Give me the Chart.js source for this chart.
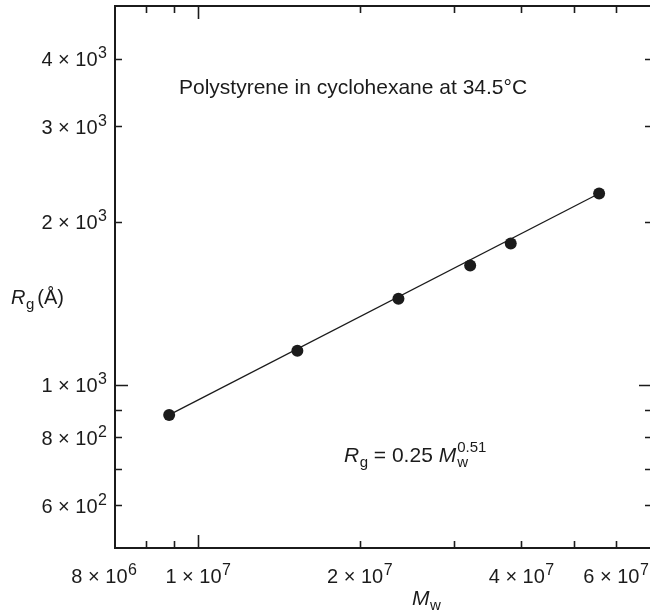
<!DOCTYPE html>
<html><head><meta charset="utf-8">
<script src="https://cdn.jsdelivr.net/npm/chart.js@4.4.0/dist/chart.umd.min.js"></script>
<style>
html,body{margin:0;padding:0;overflow:hidden;background:#fff;width:650px;height:613px}
#wrap{position:relative;width:660px;height:613px}
</style>
</head><body><div id="wrap"><canvas id="c" width="660" height="613"></canvas></div>
<script>
// ---- data ----
const molarMass = [8.83e6, 1.53e7, 2.36e7, 3.21e7, 3.82e7, 5.58e7];
const radiusGyration = [880, 1156, 1442, 1660, 1823, 2254];
const fitLineMass = [8.83e6, 5.58e7];
const fitLineRg = [880, 2254];
const xTickValues = [8e6, 9e6, 1e7, 2e7, 3e7, 4e7, 5e7, 6e7];
const xLabeledTicks = [8e6, 1e7, 2e7, 4e7, 6e7];
const xTickLabels = ['8 × 10^6', '1 × 10^7', '2 × 10^7', '4 × 10^7', '6 × 10^7'];
const yTickValues = [600, 700, 800, 900, 1000, 2000, 3000, 4000];
const yLabeledTicks = [600, 800, 1000, 2000, 3000, 4000];
const yTickLabels = ['6 × 10^2', '8 × 10^2', '1 × 10^3', '2 × 10^3', '3 × 10^3', '4 × 10^3'];
const annotationText = 'Polystyrene in cyclohexane at 34.5°C';

const FONT = '"Liberation Sans", Arial, Helvetica, sans-serif';
const INK = '#1b1b1b';

function font(size, italic) { return (italic ? 'italic ' : '') + size + 'px ' + FONT; }

function measureRich(ctx, parts) {
  let w = 0;
  for (const p of parts) {
    ctx.font = font(p.size, p.italic);
    if (!p.noAdvance) w += ctx.measureText(p.t).width + (p.gap || 0);
  }
  return w;
}
function drawRich(ctx, parts, x, y) {
  let cx = x;
  for (const p of parts) {
    ctx.font = font(p.size, p.italic);
    ctx.fillText(p.t, cx, y + (p.dy || 0));
    if (!p.noAdvance) cx += ctx.measureText(p.t).width + (p.gap || 0);
  }
  return cx - x;
}
function sciParts(label) {
  const [main, exp] = label.split('^');
  return [{t: main, size: 20, gap: 0.5}, {t: exp, size: 16, dy: -8}];
}

const decor = {
  id: 'decor',
  beforeDatasetsDraw(chart) {
    const {ctx, chartArea: a, scales: {x, y}} = chart;
    ctx.save();
    ctx.strokeStyle = INK;
    ctx.lineWidth = 2;
    ctx.strokeRect(a.left, a.top, a.right - a.left, a.bottom - a.top);
    ctx.lineWidth = 1.6;
    ctx.beginPath();
    for (const t of x.ticks) {
      const px = Math.round(x.getPixelForValue(t.value)) + 0.5;
      const len = Math.abs(Math.log10(t.value) % 1) < 1e-9 ? 13 : 7;
      ctx.moveTo(px, a.bottom); ctx.lineTo(px, a.bottom - len);
      ctx.moveTo(px, a.top); ctx.lineTo(px, a.top + len);
    }
    for (const t of y.ticks) {
      const py = Math.round(y.getPixelForValue(t.value)) + 0.5;
      const len = Math.abs(Math.log10(t.value) % 1) < 1e-9 ? 13 : 7;
      ctx.moveTo(a.left, py); ctx.lineTo(a.left + len, py);
      ctx.moveTo(a.right, py); ctx.lineTo(a.right - len, py);
    }
    ctx.stroke();
    ctx.restore();
  },
  afterDraw(chart) {
    const {ctx, scales: {x, y}} = chart;
    ctx.save();
    ctx.fillStyle = INK;
    ctx.textBaseline = 'alphabetic';
    ctx.textAlign = 'left';
    const labelNudge = {8e6: -42};
    xLabeledTicks.forEach((v, i) => {
      const parts = sciParts(xTickLabels[i]);
      const w = measureRich(ctx, parts);
      const cx = x.getPixelForValue(v) + (labelNudge[v] || 0);
      drawRich(ctx, parts, cx - w / 2, 583);
    });
    yLabeledTicks.forEach((v, i) => {
      const parts = sciParts(yTickLabels[i]);
      const w = measureRich(ctx, parts);
      const py = y.getPixelForValue(v);
      drawRich(ctx, parts, 107 - w, py + 7.5);
    });
    // axis titles
    drawRich(ctx, [{t: 'R', size: 20, italic: true, gap: 0.5}, {t: 'g', size: 15, dy: 5, gap: 3}, {t: '(Å)', size: 20}], 11, 304);
    drawRich(ctx, [{t: 'M', size: 21, italic: true, gap: 0.5}, {t: 'w', size: 15, dy: 5}], 412, 605);
    // annotation
    ctx.font = font(21, false);
    ctx.fillText(annotationText, 179, 94);
    // equation
    drawRich(ctx, [
      {t: 'R', size: 21, italic: true, gap: 0.5},
      {t: 'g', size: 15, dy: 5},
      {t: ' = 0.25 ', size: 21},
      {t: 'M', size: 21, italic: true, gap: 1},
      {t: 'w', size: 15, dy: 5, noAdvance: true},
      {t: '0.51', size: 15, dy: -10}
    ], 344, 462);
    ctx.restore();
  }
};

new Chart(document.getElementById('c'), {
  type: 'scatter',
  data: {
    datasets: [
      {
        label: 'data',
        data: molarMass.map((m, i) => ({x: m, y: radiusGyration[i]})),
        pointRadius: 6, pointHoverRadius: 6,
        backgroundColor: INK, borderColor: INK, borderWidth: 0,
        showLine: false, order: 0
      },
      {
        label: 'fit',
        data: fitLineMass.map((m, i) => ({x: m, y: fitLineRg[i]})),
        showLine: true, pointRadius: 0, borderColor: INK, borderWidth: 1.3,
        fill: false, order: 1
      }
    ]
  },
  options: {
    responsive: false,
    animation: false,
    layout: {padding: {top: 6, right: 8, left: 0, bottom: 0}},
    plugins: {legend: {display: false}, tooltip: {enabled: false}},
    scales: {
      x: {
        type: 'logarithmic', min: 7e6, max: 7e7,
        grid: {display: false}, border: {display: false},
        ticks: {display: false},
        afterBuildTicks: s => { s.ticks = xTickValues.map(v => ({value: v})); },
        afterFit: s => { s.height = 65; }
      },
      y: {
        type: 'logarithmic', min: 500, max: 5000,
        grid: {display: false}, border: {display: false},
        ticks: {display: false},
        afterBuildTicks: s => { s.ticks = yTickValues.map(v => ({value: v})); },
        afterFit: s => { s.width = 115; }
      }
    }
  },
  plugins: [decor]
});
</script>
</body></html>
